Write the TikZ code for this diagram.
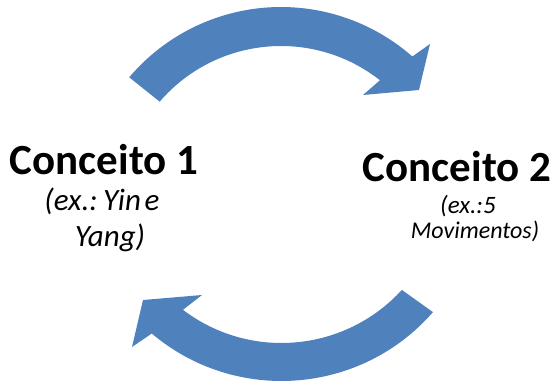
\documentclass[tikz,border=0pt]{standalone}
\usepackage{fontspec}
\setmainfont{Carlito}
\definecolor{arrowblue}{RGB}{79,129,189}
\tikzset{
  bigarrow/.style={fill=arrowblue, draw=none},
  concept/.style={font=\bfseries\fontsize{43}{50}\selectfont, anchor=base, inner sep=0pt},
  example/.style={font=\itshape\fontsize{#1}{#1}\selectfont, anchor=base, inner sep=0pt}
}
\begin{document}
\begin{tikzpicture}[x=1pt,y=-1pt]
\useasboundingbox (0,0) rectangle (558,383);
% centres of the two arcs
\coordinate (ct) at (281,206);
\coordinate (cb) at (281.5,180);
% top arrow (points right)
\fill[bigarrow] ([shift={(-139.7:199)}]ct) arc[start angle=-139.7, end angle=-48.7, radius=199]
  -- (430,44) -- (419,90) -- (363,95)
  -- ([shift={(-51.8:160)}]ct) arc[start angle=-51.8, end angle=-139.3, radius=160] -- cycle;
% bottom arrow (points left)
\fill[bigarrow] ([shift={(41.1:201)}]cb) arc[start angle=41.1, end angle=130.2, radius=201]
  -- (132,347) -- (143,300) -- (202,295)
  -- ([shift={(127.2:163)}]cb) arc[start angle=127.2, end angle=42.4, radius=163] -- cycle;
% texts
\node[concept] (c1) at (104,174) {Conceito 1};
\node[example=31] (e1a) at (102,210) {(ex.:\hspace{0.18em}Yin\hspace{0.12em}e};
\node[example=31] (e1b) at (110,246) {Yang)};
\node[concept] (c2) at (457,181) {Conceito 2};
\node[example=25] (e2a) at (468,213) {(ex.:5};
\node[example=24] (e2b) at (475,238) {Movimentos)};
\end{tikzpicture}
\end{document}
